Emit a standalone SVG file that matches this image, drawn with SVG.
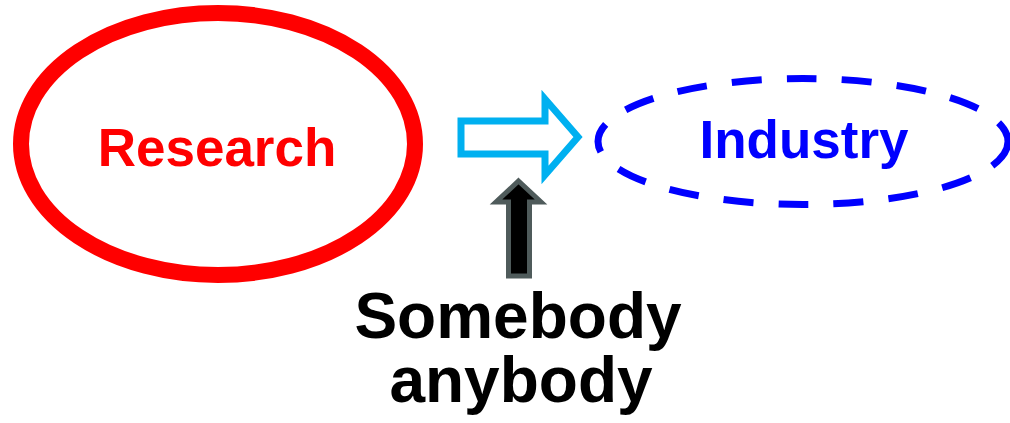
<svg xmlns="http://www.w3.org/2000/svg" width="1010" height="423" viewBox="0 0 1010 423">
<style>
text{font-family:"Liberation Sans",Arial,sans-serif;font-weight:bold;text-anchor:middle}
.lbl{font-size:53px}
.note{font-size:64px;fill:#000}
</style>
<rect width="1010" height="423" fill="#fff"/>
<g id="research">
<ellipse cx="218" cy="144" rx="197" ry="131" fill="none" stroke="#ff0000" stroke-width="16"/>
<text class="lbl" x="217" y="166" fill="#ff0000">Research</text>
</g>
<g id="industry">
<ellipse cx="803" cy="141.5" rx="205" ry="63" fill="none" stroke="#0000ff" stroke-width="7" stroke-dasharray="30 25"/>
<text class="lbl" x="804" y="158" fill="#0000ff">Industry</text>
</g>
<g id="connectors">
<polygon points="461,121 545,121 545,99 578,137 545,175 545,154 461,154" fill="#fff" stroke="#00b0f0" stroke-width="7"/>
<polygon points="518.5,181 541,202 529.5,202 529.5,276 508.5,276 508.5,202 496,202" fill="#000" stroke="#4f5b5b" stroke-width="5"/>
</g>
<g id="somebody">
<text class="note" x="518" y="338">Somebody</text>
<text class="note" x="521" y="402">anybody</text>
</g>
</svg>
